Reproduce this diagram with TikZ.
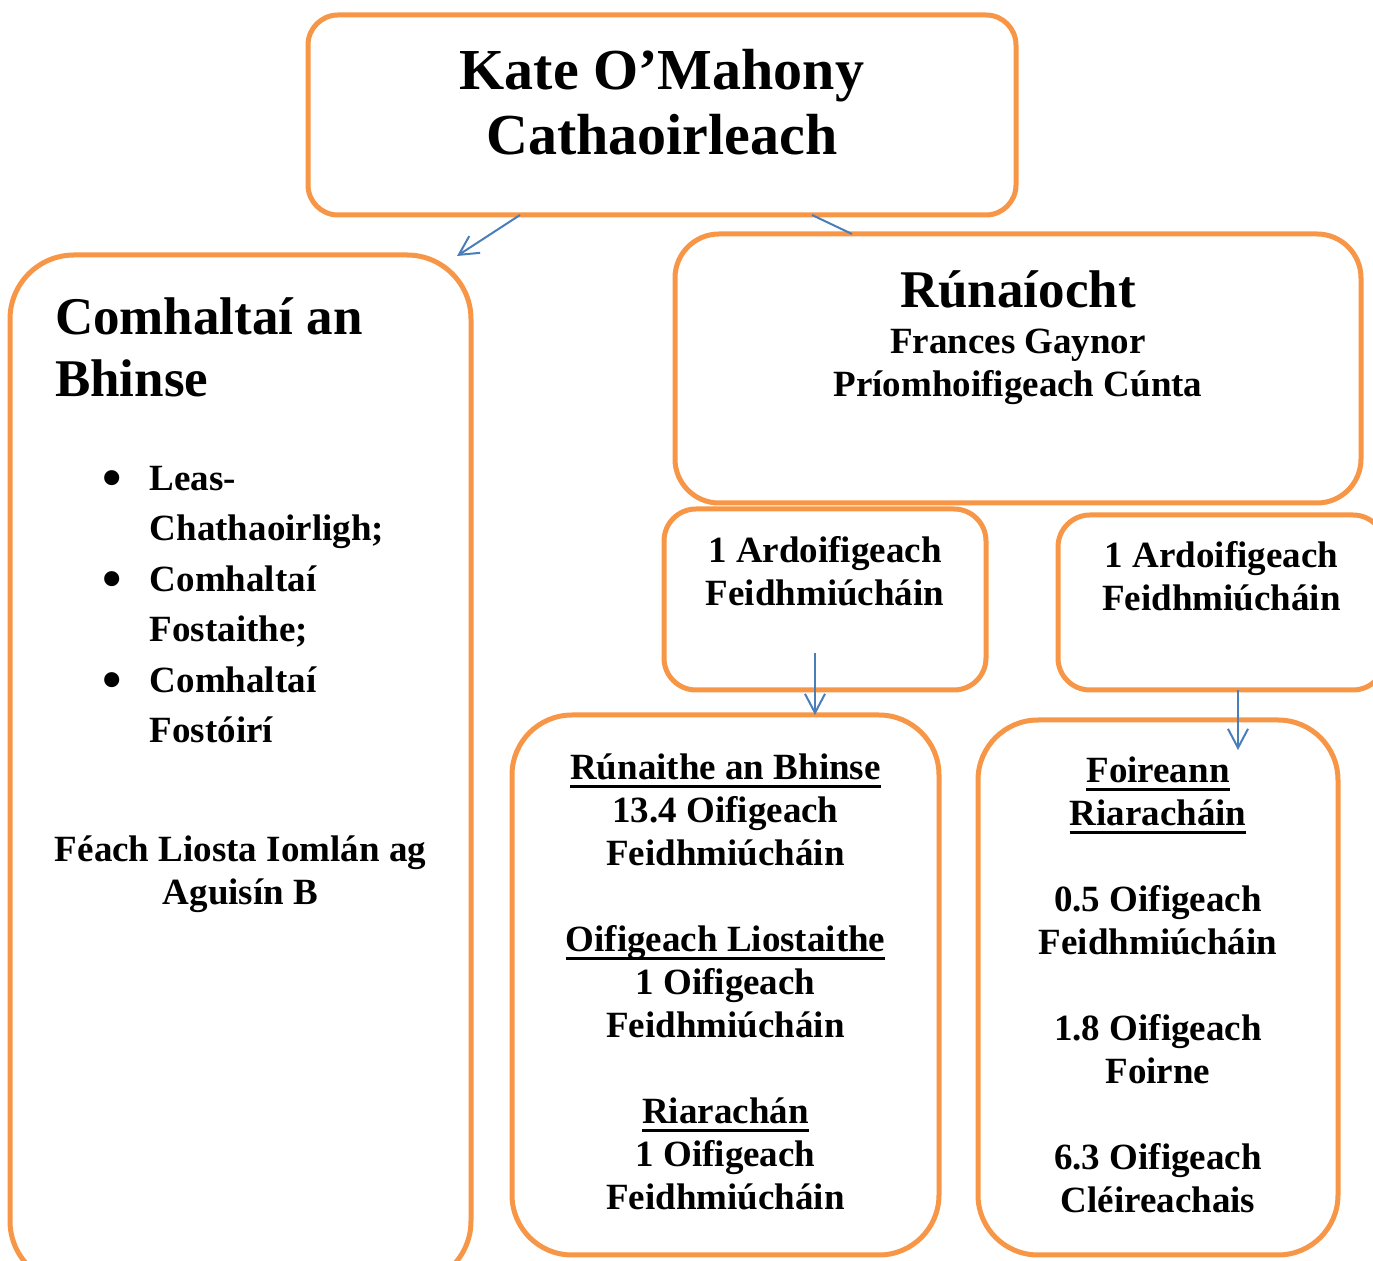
\documentclass[tikz,border=0pt]{standalone}
\usepackage{fontspec}
\setmainfont{Liberation Serif}
\usetikzlibrary{positioning,calc,arrows.meta}

\definecolor{boxorange}{HTML}{F79646}
\definecolor{linkblue}{HTML}{4A7EBB}

\newcommand{\topstrut}{\rule{0pt}{0.75em}}
\newcommand{\ulbox}[1]{\setbox0\hbox{#1}\rlap{\rule[-3.9pt]{\wd0}{1.5pt}}\box0}
\newcommand{\bigbullet}{\raisebox{-3pt}{\fontsize{27.75}{27.75}\selectfont\textbullet}}
\newcommand{\titlefont}{\fontsize{29}{32.75}\selectfont\bfseries}
\newcommand{\headfont}{\fontsize{26.5}{31}\selectfont\bfseries}
\newcommand{\secfont}{\fontsize{26.5}{30}\selectfont\bfseries}
\newcommand{\bodyfont}{\fontsize{18.5}{21.5}\selectfont\bfseries}
\newcommand{\listfont}{\fontsize{18.5}{25.25}\selectfont\bfseries}

\tikzset{
  box/.style={draw=boxorange, line width=2.5pt, fill=white, inner sep=0pt, outer sep=0pt},
  txt/.style={inner sep=0pt, outer sep=0pt, align=center},
  link/.style={draw=linkblue, line width=1pt, ->},
}

\begin{document}
\begin{tikzpicture}[x=0.5pt, y=-0.5pt, >={Straight Barb[length=9.5pt,width=10pt]}]
\useasboundingbox (0,0) rectangle (1373,1261);

% boxes
\node[box, minimum width=354pt, minimum height=100pt, rounded corners=15pt] (chair) at (662,115) {};
\node[box, minimum width=230.5pt, minimum height=515pt, rounded corners=32pt] (bench) at (240.5,770) {};
\node[box, minimum width=343pt, minimum height=134.5pt, rounded corners=22pt] (secr) at (1018,368.5) {};
\node[box, minimum width=161pt, minimum height=90.5pt, rounded corners=16pt] (exec1) at (825,599.5) {};
\node[box, minimum width=163.5pt, minimum height=87.5pt, rounded corners=16pt] (exec2) at (1221.5,602.5) {};
\node[box, minimum width=213.5pt, minimum height=270pt, rounded corners=30pt] (staff) at (725.5,985) {};
\node[box, minimum width=180pt, minimum height=267.5pt, rounded corners=30pt] (admin) at (1158,987.5) {};

% text
\node[txt, font=\titlefont, below=15.5pt of chair.north] (chairtxt) {\topstrut Kate O’Mahony\\Cathaoirleach};
\node[txt, font=\headfont, align=left, below right=20.1pt and 22.5pt of bench.north west] (benchhead) {\topstrut Comhaltaí an\\Bhinse};
\node[inner sep=0pt, font=\listfont, below right=99.8pt and 46pt of bench.north west] (benchlist) {%
  \begin{tabular}{@{}l@{\hspace{14pt}}l@{}}
  \bigbullet & Leas-\\
   & Chathaoirligh;\\
  \bigbullet & Comhaltaí\\
   & Fostaithe;\\
  \bigbullet & Comhaltaí\\
   & Fostóirí
  \end{tabular}};
\node[txt, font=\bodyfont, below=289.5pt of bench.north] (benchnote) {\topstrut Féach Liosta Iomlán ag\\Aguisín B};
\node[txt, font=\secfont, below=17.1pt of secr.north] (secrhead) {\topstrut Rúnaíocht};
\node[txt, font=\bodyfont, below=8.6pt of secrhead] (secrname) {\topstrut Frances Gaynor\\Príomhoifigeach Cúnta};
\node[txt, font=\bodyfont, below=13pt of exec1.north] (exec1txt) {\topstrut 1 Ardoifigeach\\Feidhmiúcháin};
\node[txt, font=\bodyfont, below=12.5pt of exec2.north] (exec2txt) {\topstrut 1 Ardoifigeach\\Feidhmiúcháin};
\node[txt, font=\bodyfont, below=18.5pt of staff.north] (stafftxt) {\topstrut\ulbox{Rúnaithe an Bhinse}\\13.4 Oifigeach\\Feidhmiúcháin\\[21.5pt]
  \ulbox{Oifigeach Liostaithe}\\1 Oifigeach\\Feidhmiúcháin\\[21.5pt]
  \ulbox{Riarachán}\\1 Oifigeach\\Feidhmiúcháin};
\node[txt, font=\bodyfont, below=17.5pt of admin.north] (admintxt) {\topstrut\ulbox{Foireann}\\\ulbox{Riaracháin}\\[21.5pt]
  0.5 Oifigeach\\Feidhmiúcháin\\[21.5pt]
  1.8 Oifigeach\\Foirne\\[21.5pt]
  6.3 Oifigeach\\Cléireachais};

% arrows
\coordinate (benchin) at ($(bench.north east)+(-14,1)$);
\draw[link] ($(chair.south)+(-142,0)$) -- (benchin);
\draw[linkblue, line width=1pt] ($(chair.south)+(150,0)$) -- ($(secr.north west)+(177,0)$);
\coordinate (exec1out) at ($(exec1.south)+(-10,-37)$);
\draw[link] (exec1out) -- (exec1out |- staff.north);
\coordinate (exec2out) at ($(exec2.south)+(16.5,0)$);
\draw[link] (exec2out) -- ++(0,60);
\end{tikzpicture}
\end{document}
